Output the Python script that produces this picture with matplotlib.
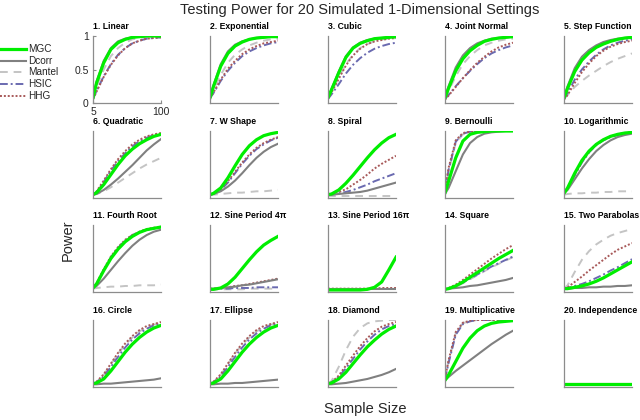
import matplotlib
matplotlib.use("Agg")
import matplotlib.pyplot as plt
import numpy as np

plt.rcParams['font.family'] = ['Liberation Sans', 'DejaVu Sans']

sample_sizes = [5, 10, 20, 30, 40, 50, 60, 70, 80, 90, 100]
methods = ["MGC", "Dcorr", "Mantel", "HSIC", "HHG"]
titles = ["1. Linear", "2. Exponential", "3. Cubic", "4. Joint Normal", "5. Step Function",
          "6. Quadratic", "7. W Shape", "8. Spiral", "9. Bernoulli", "10. Logarithmic",
          "11. Fourth Root", "12. Sine Period 4π", "13. Sine Period 16π", "14. Square", "15. Two Parabolas",
          "16. Circle", "17. Ellipse", "18. Diamond", "19. Multiplicative", "20. Independence"]

mgc = [
    [0.08,0.30,0.60,0.80,0.90,0.95,0.98,0.99,1.00,1.00,1.00],
    [0.08,0.25,0.55,0.74,0.85,0.91,0.95,0.97,0.98,0.99,0.99],
    [0.08,0.20,0.45,0.68,0.82,0.89,0.93,0.96,0.97,0.98,0.99],
    [0.08,0.22,0.48,0.66,0.78,0.86,0.92,0.95,0.97,0.98,0.99],
    [0.08,0.22,0.47,0.64,0.75,0.83,0.88,0.92,0.95,0.97,0.98],
    [0.05,0.08,0.20,0.35,0.50,0.63,0.73,0.81,0.87,0.92,0.95],
    [0.05,0.07,0.15,0.30,0.48,0.65,0.78,0.87,0.93,0.96,0.98],
    [0.05,0.06,0.12,0.22,0.34,0.47,0.60,0.72,0.82,0.90,0.95],
    [0.08,0.25,0.60,0.85,0.95,0.98,0.99,1.00,1.00,1.00,1.00],
    [0.07,0.15,0.37,0.56,0.70,0.80,0.87,0.92,0.95,0.97,0.98],
    [0.06,0.12,0.32,0.50,0.64,0.75,0.83,0.89,0.93,0.95,0.97],
    [0.04,0.04,0.06,0.12,0.22,0.35,0.48,0.60,0.70,0.77,0.83],
    [0.03,0.03,0.03,0.03,0.03,0.03,0.04,0.07,0.15,0.33,0.52],
    [0.04,0.05,0.09,0.15,0.22,0.29,0.36,0.43,0.50,0.56,0.62],
    [0.05,0.05,0.07,0.09,0.12,0.16,0.21,0.27,0.33,0.39,0.45],
    [0.05,0.06,0.12,0.24,0.38,0.52,0.64,0.74,0.82,0.88,0.92],
    [0.05,0.06,0.12,0.24,0.38,0.52,0.64,0.74,0.82,0.88,0.92],
    [0.05,0.06,0.12,0.22,0.35,0.48,0.60,0.70,0.79,0.86,0.91],
    [0.10,0.18,0.38,0.58,0.73,0.84,0.91,0.95,0.97,0.98,0.99],
    [0.05,0.05,0.05,0.05,0.05,0.05,0.05,0.05,0.05,0.05,0.05],
]
dcorr = [
    [0.10,0.32,0.63,0.82,0.92,0.96,0.98,0.99,1.00,1.00,1.00],
    [0.09,0.27,0.58,0.77,0.87,0.92,0.95,0.97,0.98,0.99,1.00],
    [0.08,0.21,0.47,0.70,0.83,0.90,0.94,0.96,0.97,0.98,0.99],
    [0.09,0.25,0.53,0.71,0.82,0.89,0.93,0.96,0.97,0.98,0.99],
    [0.09,0.25,0.52,0.69,0.79,0.86,0.91,0.94,0.96,0.97,0.98],
    [0.05,0.06,0.12,0.20,0.29,0.39,0.49,0.60,0.71,0.80,0.88],
    [0.05,0.06,0.10,0.17,0.26,0.37,0.49,0.60,0.69,0.76,0.81],
    [0.05,0.05,0.06,0.07,0.08,0.09,0.11,0.14,0.17,0.20,0.23],
    [0.06,0.15,0.40,0.65,0.82,0.91,0.96,0.98,0.99,1.00,1.00],
    [0.07,0.12,0.28,0.44,0.58,0.70,0.79,0.86,0.91,0.94,0.96],
    [0.06,0.09,0.20,0.33,0.46,0.58,0.69,0.78,0.85,0.90,0.93],
    [0.05,0.05,0.06,0.07,0.08,0.10,0.11,0.13,0.15,0.17,0.19],
    [0.05,0.05,0.05,0.05,0.05,0.05,0.05,0.05,0.05,0.05,0.05],
    [0.04,0.05,0.06,0.07,0.09,0.10,0.12,0.14,0.16,0.18,0.21],
    [0.05,0.05,0.06,0.06,0.07,0.07,0.08,0.08,0.09,0.09,0.10],
    [0.04,0.04,0.05,0.05,0.06,0.07,0.08,0.09,0.10,0.11,0.13],
    [0.04,0.04,0.05,0.05,0.06,0.06,0.07,0.08,0.09,0.10,0.11],
    [0.04,0.04,0.05,0.06,0.08,0.10,0.12,0.15,0.18,0.22,0.27],
    [0.10,0.15,0.24,0.32,0.40,0.48,0.56,0.64,0.71,0.78,0.84],
    [0.05,0.05,0.05,0.05,0.05,0.05,0.05,0.05,0.05,0.05,0.05],
]
mantel = [
    [0.08,0.25,0.50,0.70,0.82,0.90,0.95,0.97,0.99,0.99,1.00],
    [0.08,0.20,0.42,0.60,0.72,0.80,0.86,0.90,0.93,0.95,0.96],
    [0.07,0.17,0.38,0.58,0.72,0.82,0.88,0.92,0.95,0.96,0.97],
    [0.07,0.18,0.40,0.58,0.70,0.79,0.86,0.90,0.93,0.95,0.96],
    [0.06,0.12,0.24,0.33,0.41,0.48,0.55,0.61,0.66,0.70,0.74],
    [0.05,0.06,0.10,0.16,0.23,0.30,0.37,0.44,0.50,0.55,0.60],
    [0.05,0.05,0.06,0.07,0.08,0.08,0.09,0.10,0.10,0.11,0.12],
    [0.03,0.03,0.03,0.03,0.03,0.03,0.03,0.03,0.03,0.03,0.03],
    [0.10,0.40,0.82,0.95,0.99,1.00,1.00,1.00,1.00,1.00,1.00],
    [0.05,0.06,0.07,0.07,0.08,0.08,0.09,0.09,0.10,0.10,0.10],
    [0.05,0.06,0.07,0.08,0.08,0.09,0.09,0.10,0.10,0.10,0.11],
    [0.04,0.04,0.04,0.04,0.04,0.04,0.05,0.05,0.05,0.05,0.05],
    [0.04,0.04,0.04,0.04,0.04,0.04,0.04,0.04,0.04,0.04,0.04],
    [0.04,0.05,0.08,0.13,0.19,0.25,0.31,0.37,0.42,0.47,0.52],
    [0.05,0.10,0.30,0.48,0.61,0.71,0.78,0.84,0.88,0.91,0.94],
    [0.05,0.07,0.18,0.34,0.50,0.63,0.74,0.83,0.89,0.93,0.96],
    [0.05,0.07,0.18,0.34,0.50,0.63,0.74,0.83,0.89,0.93,0.96],
    [0.05,0.09,0.30,0.55,0.75,0.88,0.95,0.98,0.99,1.00,1.00],
    [0.12,0.38,0.80,0.95,0.99,1.00,1.00,1.00,1.00,1.00,1.00],
    [0.05,0.05,0.05,0.05,0.05,0.05,0.05,0.05,0.05,0.05,0.05],
]
hsic = [
    [0.06,0.18,0.40,0.58,0.72,0.82,0.89,0.93,0.96,0.97,0.98],
    [0.07,0.15,0.33,0.48,0.60,0.70,0.77,0.82,0.86,0.89,0.91],
    [0.06,0.13,0.28,0.44,0.57,0.67,0.75,0.81,0.85,0.88,0.90],
    [0.06,0.12,0.25,0.37,0.48,0.58,0.67,0.74,0.79,0.83,0.86],
    [0.06,0.15,0.35,0.50,0.62,0.72,0.80,0.86,0.90,0.93,0.95],
    [0.05,0.09,0.24,0.41,0.55,0.67,0.77,0.85,0.90,0.94,0.96],
    [0.05,0.06,0.12,0.23,0.37,0.51,0.63,0.73,0.80,0.86,0.90],
    [0.05,0.05,0.07,0.09,0.12,0.16,0.20,0.25,0.29,0.33,0.37],
    [0.10,0.42,0.84,0.96,0.99,1.00,1.00,1.00,1.00,1.00,1.00],
    [0.07,0.14,0.34,0.53,0.68,0.79,0.86,0.91,0.94,0.96,0.97],
    [0.06,0.12,0.33,0.52,0.66,0.77,0.85,0.90,0.93,0.95,0.97],
    [0.04,0.04,0.05,0.05,0.06,0.06,0.06,0.07,0.07,0.07,0.07],
    [0.05,0.05,0.05,0.05,0.05,0.05,0.05,0.05,0.05,0.05,0.05],
    [0.04,0.05,0.09,0.14,0.20,0.26,0.32,0.38,0.43,0.48,0.53],
    [0.05,0.06,0.09,0.12,0.16,0.21,0.26,0.32,0.37,0.43,0.49],
    [0.05,0.07,0.16,0.30,0.45,0.59,0.71,0.80,0.87,0.92,0.95],
    [0.05,0.07,0.16,0.30,0.45,0.59,0.71,0.80,0.87,0.92,0.95],
    [0.05,0.07,0.15,0.28,0.42,0.56,0.68,0.78,0.86,0.91,0.94],
    [0.12,0.36,0.78,0.94,0.98,1.00,1.00,1.00,1.00,1.00,1.00],
    [0.05,0.05,0.05,0.05,0.05,0.05,0.05,0.05,0.05,0.05,0.05],
]
hhg = [
    [0.06,0.17,0.39,0.57,0.71,0.82,0.89,0.93,0.96,0.97,0.98],
    [0.07,0.16,0.35,0.51,0.63,0.73,0.80,0.85,0.89,0.91,0.93],
    [0.07,0.16,0.36,0.56,0.71,0.81,0.88,0.92,0.94,0.96,0.97],
    [0.05,0.11,0.24,0.37,0.49,0.60,0.69,0.77,0.83,0.87,0.90],
    [0.05,0.12,0.30,0.46,0.59,0.70,0.78,0.84,0.88,0.91,0.93],
    [0.05,0.10,0.26,0.43,0.58,0.70,0.80,0.87,0.92,0.95,0.97],
    [0.05,0.07,0.13,0.25,0.39,0.53,0.65,0.75,0.82,0.87,0.91],
    [0.05,0.06,0.09,0.13,0.20,0.27,0.35,0.44,0.51,0.57,0.63],
    [0.11,0.45,0.86,0.97,0.99,1.00,1.00,1.00,1.00,1.00,1.00],
    [0.07,0.14,0.35,0.54,0.69,0.80,0.87,0.92,0.95,0.97,0.98],
    [0.06,0.13,0.34,0.53,0.67,0.78,0.85,0.90,0.94,0.96,0.97],
    [0.05,0.05,0.06,0.07,0.09,0.10,0.12,0.14,0.16,0.18,0.20],
    [0.05,0.05,0.05,0.05,0.05,0.05,0.05,0.05,0.06,0.06,0.06],
    [0.04,0.06,0.11,0.18,0.26,0.34,0.42,0.50,0.57,0.64,0.70],
    [0.05,0.07,0.15,0.23,0.32,0.40,0.48,0.56,0.63,0.68,0.73],
    [0.05,0.08,0.19,0.35,0.51,0.65,0.76,0.85,0.91,0.94,0.97],
    [0.05,0.08,0.19,0.35,0.51,0.65,0.76,0.85,0.91,0.94,0.97],
    [0.05,0.07,0.17,0.32,0.47,0.61,0.73,0.83,0.90,0.94,0.97],
    [0.13,0.40,0.82,0.96,0.99,1.00,1.00,1.00,1.00,1.00,1.00],
    [0.05,0.05,0.05,0.05,0.05,0.05,0.05,0.05,0.05,0.05,0.05],
]

series = [mantel, hsic, hhg, dcorr, mgc]
names = ["Mantel", "HSIC", "HHG", "Dcorr", "MGC"]
styles = {
    "MGC": dict(color="#00EE00", lw=2.3, ls="-"),
    "Dcorr": dict(color="#808080", lw=1.5, ls="-"),
    "Mantel": dict(color="#C4C4C4", lw=1.4, ls=(0, (4, 3))),
    "HSIC": dict(color="#6A6AB0", lw=1.4, ls=(0, (4, 1.5, 1, 1.5))),
    "HHG": dict(color="#A85A5A", lw=1.4, ls=(0, (1, 1))),
}

W, H = 640, 420
fig = plt.figure(figsize=(6.4, 4.2), dpi=100)
col_left = [93, 210, 328, 445, 564]
row_bottom = [103, 198, 292, 387]
aw, ah = 68, 67
spine_c = "#8C8C8C"

for i in range(20):
    r, c = divmod(i, 5)
    ax = fig.add_axes([col_left[c] / W, 1 - row_bottom[r] / H, aw / W, ah / H])
    for nm, data in zip(names, series):
        ax.plot(sample_sizes, data[i], **styles[nm])
    ax.set_xlim(5, 100)
    ax.set_ylim(0, 1)
    for s in ["top", "right"]:
        ax.spines[s].set_visible(False)
    for s in ["left", "bottom"]:
        ax.spines[s].set_color(spine_c)
        ax.spines[s].set_linewidth(0.9)
    ax.set_title(titles[i], loc="left", fontsize=6.2, fontweight="bold", pad=5)
    if i == 0:
        ax.set_xticks([5, 100])
        ax.set_xticklabels(["5", "100"])
        ax.set_yticks([0, 0.5, 1])
        ax.set_yticklabels(["0", "0.5", "1"])
        ax.tick_params(direction="in", length=2, labelsize=7.5, colors=spine_c,
                       labelcolor="#262626", pad=3)
    else:
        ax.set_xticks([])
        ax.set_yticks([])

# legend
leg_y = [49, 61, 72, 84, 96]
for nm, yy in zip(methods, leg_y):
    yf = 1 - yy / H
    fig.add_artist(plt.Line2D([0, 26 / W], [yf, yf], transform=fig.transFigure, **styles[nm]))
    fig.text(28 / W, yf, nm, fontsize=7.2, va="center", ha="left", color="#262626")

fig.text(0.5625, 1 - 10 / H, "Testing Power for 20 Simulated 1-Dimensional Settings",
         ha="center", va="center", fontsize=10.5, color="#262626")
fig.text(68 / W, 1 - 240 / H, "Power", rotation=90, ha="center", va="center",
         fontsize=10.5, color="#262626")
fig.text(365 / W, 1 - 409 / H, "Sample Size", ha="center", va="center",
         fontsize=10.5, color="#262626")

fig.savefig("out.png", dpi=100)
